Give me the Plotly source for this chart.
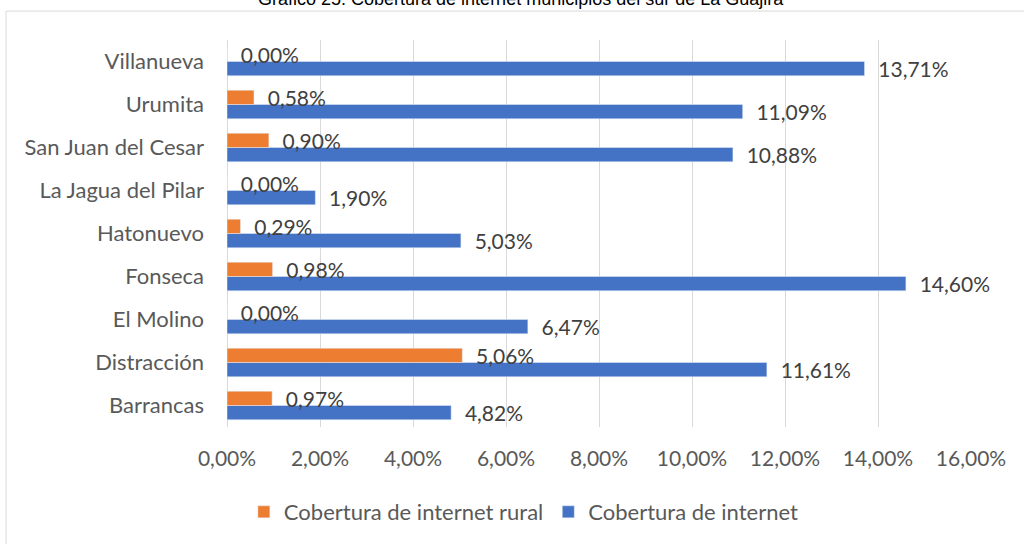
import plotly.graph_objects as go

# Municipios (de abajo hacia arriba en el eje)
municipios = [
    "Barrancas", "Distracción", "El Molino", "Fonseca", "Hatonuevo",
    "La Jagua del Pilar", "San Juan del Cesar", "Urumita", "Villanueva",
]
cobertura_total = [4.82, 11.61, 6.47, 14.60, 5.03, 1.90, 10.88, 11.09, 13.71]
cobertura_rural = [0.97, 5.06, 0.00, 0.98, 0.29, 0.00, 0.90, 0.58, 0.00]

x_ticks = [0, 2, 4, 6, 8, 10, 12, 14, 16]
x_tick_text = [f"{v:.2f}%".replace(".", ",") for v in x_ticks]

AZUL = "#4472C4"
NARANJA = "#ED7D31"
FONT = "Lato"
PAD = "\u00a0\u00a0"

fig = go.Figure()
fig.add_trace(go.Bar(
    y=municipios, x=cobertura_total, orientation="h",
    name="Cobertura de internet", marker_color=AZUL,
    texttemplate=PAD + "%{x:.2f}%", textposition="outside",
    constraintext="none", cliponaxis=False,
    textfont=dict(family=FONT, size=21, color="#404040"),
))
fig.add_trace(go.Bar(
    y=municipios, x=cobertura_rural, orientation="h",
    name="Cobertura de internet rural", marker_color=NARANJA,
    texttemplate=PAD + "%{x:.2f}%", textposition="outside",
    constraintext="none", cliponaxis=False,
    textfont=dict(family=FONT, size=21, color="#404040"),
))

fig.update_layout(
    width=1024, height=544,
    margin=dict(l=227, r=53, t=40, b=116),
    paper_bgcolor="white", plot_bgcolor="white",
    separators=",.",
    barmode="group", bargap=0.336, bargroupgap=0,
    font=dict(family=FONT, size=21, color="#595959"),
    showlegend=True,
    legend=dict(
        orientation="h", traceorder="reversed",
        x=0.399, xanchor="center", y=-0.2165, yanchor="middle",
        font=dict(family=FONT, size=22, color="#595959"),
        itemwidth=30, bgcolor="rgba(0,0,0,0)",
    ),
    xaxis=dict(
        range=[0, 16], tickvals=x_ticks, ticktext=x_tick_text,
        showgrid=True, gridcolor="#d9d9d9", gridwidth=1,
        zeroline=True, zerolinecolor="#d9d9d9", zerolinewidth=1,
        showline=False, ticks="", ticklabelstandoff=17,
        fixedrange=True,
    ),
    yaxis=dict(
        categoryorder="array", categoryarray=municipios,
        showgrid=False, showline=False, ticks="", ticklabelstandoff=22,
        tickfont=dict(family=FONT, size=22, color="#595959"),
        fixedrange=True,
    ),
    shapes=[dict(
        type="rect", xref="paper", yref="paper",
        x0=-0.297, x1=1.08, y0=-0.34, y1=1.0747,
        line=dict(color="#d9d9d9", width=1), fillcolor="rgba(0,0,0,0)",
        layer="below",
    )],
    annotations=[dict(
        text="Gráfico 25. Cobertura de internet municipios del sur de La Guajira",
        xref="paper", yref="paper", x=(521 - 227) / 743.7, y=1.1057,
        xanchor="center", yanchor="middle", showarrow=False,
        font=dict(family="Liberation Sans", size=18, color="#000000"),
    )],
)

fig.write_html("out.html")
